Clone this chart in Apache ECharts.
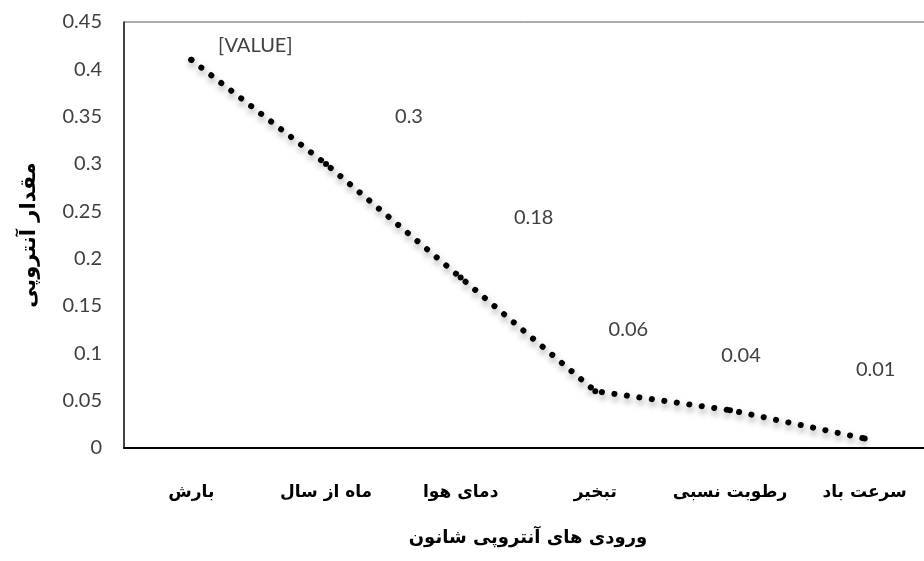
<!DOCTYPE html>
<html>
<head>
<meta charset="utf-8">
<script src="https://cdn.jsdelivr.net/npm/echarts@6/dist/echarts.min.js"></script>
<style>
  html, body { margin: 0; padding: 0; background: #fff; }
  #chart { width: 924px; height: 561px; }
</style>
</head>
<body>
<div id="chart"></div>
<script>
// data
const categories = ['بارش', 'ماه از سال', 'دمای هوا', 'تبخیر', 'رطوبت نسبی', 'سرعت باد'];
const entropyValues = [0.41, 0.3, 0.18, 0.06, 0.04, 0.01];
const pointLabels = ['[VALUE]', '0.3', '0.18', '0.06', '0.04', '0.01'];
const yTicks = [0, 0.05, 0.1, 0.15, 0.2, 0.25, 0.3, 0.35, 0.4, 0.45];

// labels were dragged around by hand in the original, so offset each one
const labelOffsets = [[64, 4], [83, -29], [73, -42], [33, -44], [11, -37], [11, -51]];

const chart = echarts.init(document.getElementById('chart'));

let seriesData = [];
for (let i = 0; i < entropyValues.length; i++) {
  seriesData.push({
    value: entropyValues[i],
    label: { offset: labelOffsets[i] }
  });
}

chart.setOption({
  animation: false,
  textStyle: { fontFamily: 'Lato, "DejaVu Sans", sans-serif' },
  grid: {
    left: 124,
    right: -8,
    top: 22,
    bottom: 113,
    show: true,
    borderColor: '#595959',
    borderWidth: 1,
    outerBoundsMode: 'none'
  },
  xAxis: {
    type: 'category',
    data: categories,
    boundaryGap: true,
    name: 'ورودی های آنتروپی شانون',
    nameLocation: 'middle',
    nameGap: 81,
    nameTextStyle: { fontSize: 18, fontWeight: 'bold', color: '#000', fontFamily: '"DejaVu Sans", sans-serif' },
    axisLine: { lineStyle: { color: '#000', width: 2 } },
    axisTick: { show: false },
    axisLabel: {
      margin: 36,
      fontSize: 17,
      fontWeight: 'bold',
      color: '#000',
      fontFamily: '"DejaVu Sans", sans-serif',
      interval: 0
    }
  },
  yAxis: {
    type: 'value',
    min: yTicks[0],
    max: yTicks[yTicks.length - 1],
    interval: 0.05,
    name: 'مقدار آنتروپی',
    nameLocation: 'middle',
    nameGap: 84,
    nameRotate: 90,
    nameTextStyle: { fontSize: 21, fontWeight: 'bold', color: '#000', fontFamily: '"DejaVu Sans", sans-serif' },
    axisLine: { show: true, lineStyle: { color: '#222', width: 1.5 } },
    axisTick: { show: false },
    splitLine: { show: false },
    axisLabel: {
      margin: 22,
      fontSize: 20,
      color: '#404040',
      formatter: function (v) { return String(+v.toFixed(2)); }
    }
  },
  series: [{
    type: 'line',
    data: seriesData,
    symbol: 'circle',
    symbolSize: 6,
    itemStyle: { color: '#000' },
    lineStyle: {
      color: '#000',
      width: 6,
      type: [0.1, 12.5],
      cap: 'round',
      shadowColor: 'rgba(0,0,0,0.4)',
      shadowBlur: 6,
      shadowOffsetX: 1,
      shadowOffsetY: 4
    },
    label: {
      show: true,
      position: 'top',
      fontSize: 20,
      color: '#404040',
      formatter: function (p) { return pointLabels[p.dataIndex]; }
    }
  }]
});
</script>
</body>
</html>
